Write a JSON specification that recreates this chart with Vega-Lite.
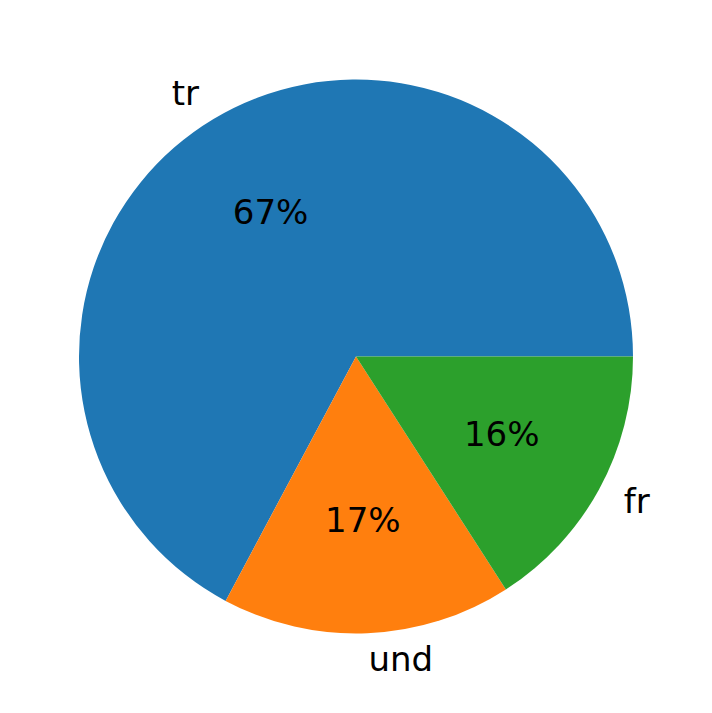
{
  "$schema": "https://vega.github.io/schema/vega-lite/v6.json",
  "width": 712,
  "height": 713,
  "autosize": {"type": "fit", "contains": "padding"},
  "padding": 0,
  "background": "white",
  "config": {"view": {"stroke": null}},
  "data": {
    "values": [
      {"lang": "tr", "idx": 0, "value": 67.2},
      {"lang": "und", "idx": 1, "value": 16.9},
      {"lang": "fr", "idx": 2, "value": 15.9}
    ]
  },
  "transform": [
    {"joinaggregate": [{"op": "sum", "field": "value", "as": "total"}]},
    {"calculate": "datum.value / datum.total", "as": "pct"}
  ],
  "encoding": {
    "theta": {"field": "value", "type": "quantitative", "stack": true, "scale": {"range": [1.5707963, 7.8539816]}},
    "order": {"field": "idx", "type": "quantitative", "sort": "descending"}
  },
  "layer": [
    {
      "mark": {"type": "arc", "radius": 277},
      "encoding": {
        "color": {
          "field": "lang",
          "type": "nominal",
          "scale": {"domain": ["tr", "und", "fr"], "range": ["#1f77b4", "#ff7f0e", "#2ca02c"]},
          "legend": null
        }
      }
    },
    {
      "mark": {"type": "text", "radius": 166, "font": "DejaVu Sans", "fontSize": 34, "baseline": "middle", "align": "center", "color": "black"},
      "encoding": {
        "text": {"field": "pct", "type": "quantitative", "format": ".0%"}
      }
    },
    {
      "mark": {"type": "text", "radius": 305, "font": "DejaVu Sans", "fontSize": 34, "baseline": "middle", "align": "right", "color": "black"},
      "encoding": {
        "text": {"condition": {"test": "datum.lang === 'tr'", "field": "lang"}, "value": ""}
      }
    },
    {
      "mark": {"type": "text", "radius": 305, "font": "DejaVu Sans", "fontSize": 34, "baseline": "middle", "align": "left", "color": "black"},
      "encoding": {
        "text": {"condition": {"test": "datum.lang !== 'tr'", "field": "lang"}, "value": ""}
      }
    }
  ]
}
